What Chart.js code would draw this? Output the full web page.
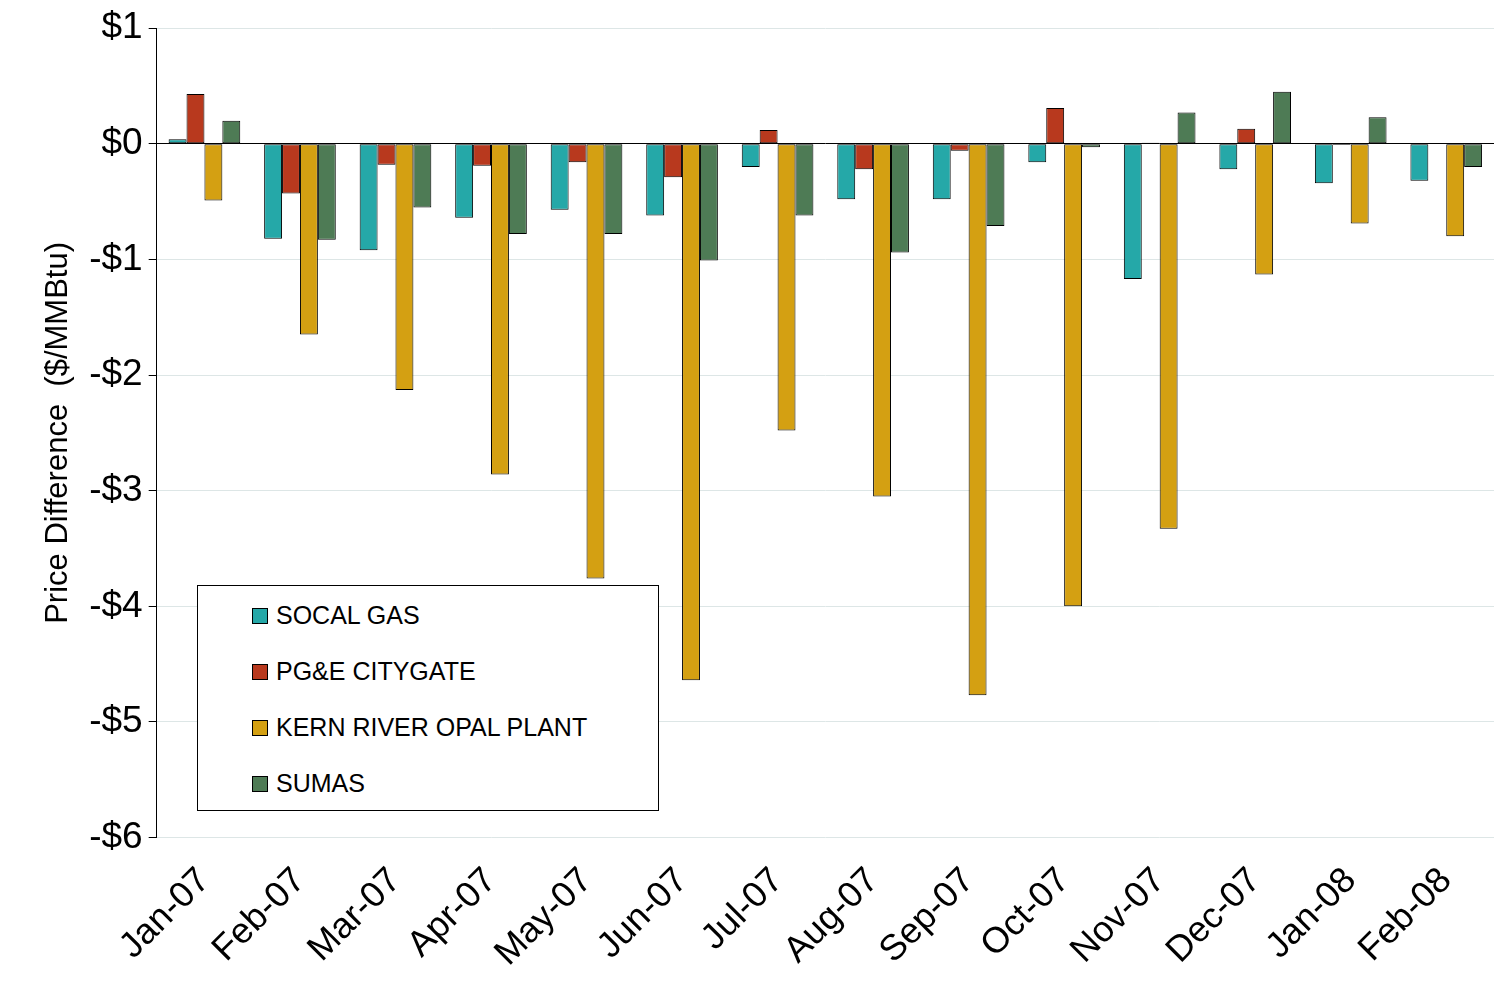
<!DOCTYPE html>
<html><head><meta charset="utf-8">
<script src="https://cdn.jsdelivr.net/npm/chart.js@4"></script>
<style>
html,body{margin:0;padding:0;background:#fff;}
#wrap{position:relative;width:1496px;height:989px;}
#legend{position:absolute;left:197px;top:585px;width:462px;height:226px;border:1px solid #000;background:#fff;
  font-family:'Liberation Sans',Arial,sans-serif;font-size:25px;box-sizing:border-box;padding-top:14px;}
#legend div{height:56px;line-height:30px;position:relative;}
#legend span{position:absolute;left:54px;top:8px;width:14px;height:14px;border:1px solid #000;}
#legend div b{font-weight:normal;position:absolute;left:78px;top:0;}
</style></head><body>
<div id="wrap"><canvas id="c" width="1496" height="989"></canvas><div id="legend"></div></div>
<script>
const FONT = "'Liberation Sans', Arial, sans-serif";
const months = ['Jan-07','Feb-07','Mar-07','Apr-07','May-07','Jun-07','Jul-07','Aug-07','Sep-07','Oct-07','Nov-07','Dec-07','Jan-08','Feb-08'];
const socal = [0.04,-0.82,-0.92,-0.64,-0.57,-0.62,-0.20,-0.48,-0.48,-0.16,-1.17,-0.22,-0.34,-0.32];
const pge   = [0.43,-0.43,-0.18,-0.19,-0.16,-0.29,0.12,-0.22,-0.06,0.31,0.01,0.13,-0.01,0];
const kern  = [-0.49,-1.65,-2.13,-2.86,-3.76,-4.64,-2.48,-3.05,-4.77,-4.00,-3.33,-1.13,-0.69,-0.80];
const sumas = [0.20,-0.83,-0.55,-0.78,-0.78,-1.01,-0.62,-0.94,-0.71,-0.03,0.27,0.45,0.23,-0.20];
const names = ['SOCAL GAS','PG&E CITYGATE','KERN RIVER OPAL PLANT','SUMAS'];
const colors = ['#25A8A8','#B8391E','#D4A012','#4E7B55'];
const series = [socal, pge, kern, sumas];

new Chart(document.getElementById('c'), {
  type: 'bar',
  data: {
    labels: months,
    datasets: series.map((d, i) => ({
      label: names[i], data: d, backgroundColor: colors[i],
      borderColor: '#000', borderWidth: 1, borderSkipped: false,
      categoryPercentage: 0.75, barPercentage: 1
    }))
  },
  options: {
    responsive: false, animation: false,
    layout: { padding: { left: 36, right: 2, top: 0 } },
    plugins: { legend: { display: false }, tooltip: { enabled: false } },
    scales: {
      y: {
        min: -6, max: 1,
        ticks: { stepSize: 1, color: '#000', padding: 6, font: { family: FONT, size: 37 },
                 callback: v => (v < 0 ? '-$' + (-v) : '$' + v) },
        grid: { color: ctx => ctx.tick.value === 0 ? '#000' : '#dde6e6', tickColor: '#000', tickLength: 8 },
        border: { color: '#000' },
        title: { display: true, text: 'Price Difference  ($/MMBtu)', color: '#000', padding: { bottom: 6 }, font: { family: FONT, size: 31 } }
      },
      x: {
        offset: true,
        grid: { display: false, offset: true },
        border: { display: false },
        ticks: { color: '#000', padding: 14, font: { family: FONT, size: 36 }, maxRotation: 45, minRotation: 45 }
      }
    }
  }
});

const lg = document.getElementById('legend');
names.forEach((n, i) => {
  const d = document.createElement('div');
  d.innerHTML = '<span style="background:' + colors[i] + '"></span><b>' + n.replace('&','&amp;') + '</b>';
  lg.appendChild(d);
});
</script>
</body></html>
